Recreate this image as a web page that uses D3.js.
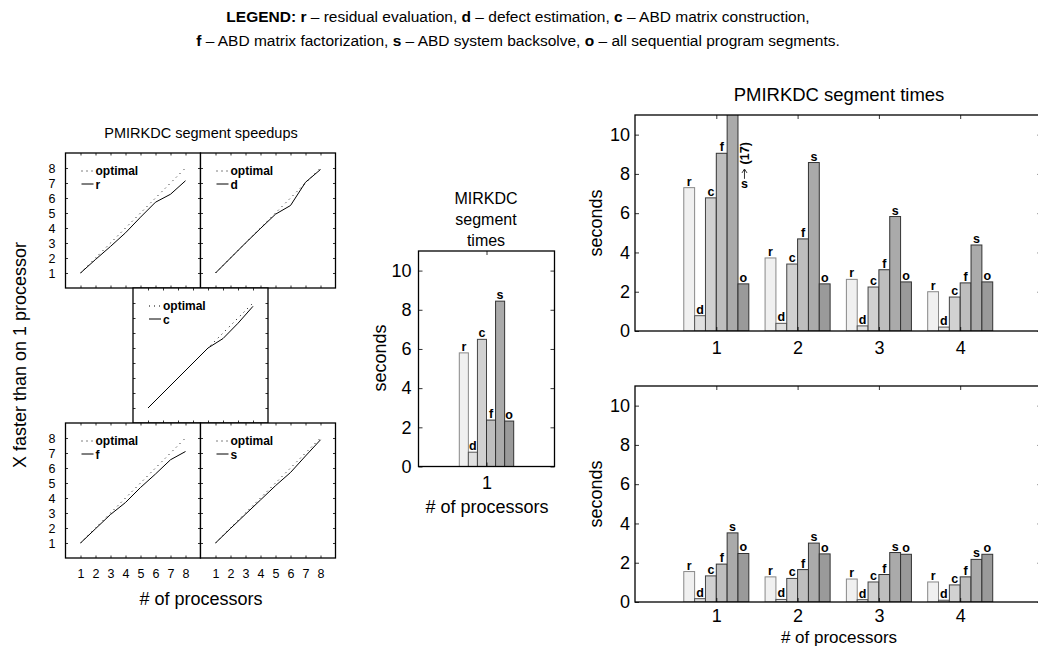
<!DOCTYPE html>
<html>
<head>
<meta charset="utf-8">
<script src="https://cdn.jsdelivr.net/npm/d3@7"></script>
<style>
  html, body { margin: 0; padding: 0; background: #fff; }
  svg { display: block; }
  text { font-family: "Liberation Sans", Helvetica, Arial, sans-serif; fill: #000; }
</style>
</head>
<body>
<div id="chart"></div>
<script>
// ---- data -------------------------------------------------------------
const segments = ["r", "d", "c", "f", "s", "o"];
const segmentNames = ["residual evaluation", "defect estimation", "ABD matrix construction",
                      "ABD matrix factorization", "ABD system backsolve", "all sequential program segments"];
const processors = [1, 2, 3, 4, 5, 6, 7, 8];
const speedTicks = [1, 2, 3, 4, 5, 6, 7, 8];
const timeTicks = [0, 2, 4, 6, 8, 10];

// speedup of each parallel segment relative to one processor
const optimalSpeedup = [1, 2, 3, 4, 5, 6, 7, 8];
const speedupR = [1, 1.9, 2.77, 3.68, 4.72, 5.72, 6.25, 7.15];
const speedupD = [1, 2.0, 3.0, 3.97, 4.92, 5.5, 7.05, 7.9];
const speedupC = [1, 2.0, 3.0, 4.0, 5.0, 5.63, 6.65, 7.78];
const speedupF = [1, 1.95, 2.9, 3.7, 4.7, 5.6, 6.55, 7.1];
const speedupS = [1, 1.97, 2.92, 3.87, 4.82, 5.7, 6.8, 7.88];

// sequential MIRKDC segment times (seconds)
const mirkdcTimes = [5.8, 0.73, 6.49, 2.37, 8.44, 2.32];

// PMIRKDC segment times (seconds) for 1..8 processors, one array per segment
const timesR = [7.3, 3.72, 2.63, 2.0, 1.55, 1.28, 1.17, 1.02];
const timesD = [0.78, 0.39, 0.26, 0.2, 0.17, 0.13, 0.12, 0.09];
const timesC = [6.78, 3.41, 2.24, 1.73, 1.33, 1.2, 1.02, 0.87];
const timesF = [9.05, 4.69, 3.12, 2.45, 1.93, 1.65, 1.4, 1.28];
const timesS = [17, 8.58, 5.83, 4.38, 3.52, 3.0, 2.52, 2.17];
const timesO = [2.4, 2.4, 2.5, 2.5, 2.47, 2.45, 2.43, 2.43];

const barFills = ["#f0f0f0", "#e0e0e0", "#d1d1d1", "#bebebe", "#aaaaaa", "#9a9a9a"];
const barStrokes = ["#888", "#555", "#444", "#333", "#333", "#333"];

// ---- canvas -----------------------------------------------------------
const W = 1038, H = 654;
const svg = d3.select("#chart").append("svg")
  .attr("width", W).attr("height", H)
  .attr("viewBox", `0 0 ${W} ${H}`);

// ---- legend header ----------------------------------------------------
function legendLine(y, parts) {
  const t = svg.append("text").attr("x", 518).attr("y", y)
    .attr("text-anchor", "middle").style("font-size", "15.5px");
  parts.forEach(p => {
    t.append("tspan").text(p.t).style("font-weight", p.b ? "bold" : "normal");
  });
}
legendLine(22, [
  {t: "LEGEND:  ", b: true},
  {t: "r", b: true}, {t: " – " + segmentNames[0] + ", "},
  {t: "d", b: true}, {t: " – " + segmentNames[1] + ", "},
  {t: "c", b: true}, {t: " – " + segmentNames[2] + ","}
]);
legendLine(46, [
  {t: "f", b: true}, {t: " – " + segmentNames[3] + ", "},
  {t: "s", b: true}, {t: " – " + segmentNames[4] + ", "},
  {t: "o", b: true}, {t: " – " + segmentNames[5] + "."}
]);

// ---- speedup panels ---------------------------------------------------
const PANEL = 135;
function speedupPanel(x0, y0, series, letter, showX, showY) {
  const x = d3.scaleLinear().domain([0, 9]).range([x0, x0 + PANEL]);
  const y = d3.scaleLinear().domain([0, 9]).range([y0 + PANEL, y0]);
  const g = svg.append("g");

  g.append("rect").attr("x", x0).attr("y", y0).attr("width", PANEL).attr("height", PANEL)
    .attr("fill", "#fff").attr("stroke", "#000").attr("stroke-width", 1.3);

  const fmt = d => d;
  const blank = () => "";
  const axes = [
    [d3.axisBottom(x).tickFormat(showX ? fmt : blank).tickPadding(11), `translate(0,${y0 + PANEL})`],
    [d3.axisTop(x).tickFormat(blank), `translate(0,${y0})`],
    [d3.axisLeft(y).tickFormat(showY ? fmt : blank).tickPadding(10), `translate(${x0},0)`],
    [d3.axisRight(y).tickFormat(blank), `translate(${x0 + PANEL},0)`]
  ];
  axes.forEach(([ax, tr]) => {
    const a = g.append("g").attr("transform", tr)
      .call(ax.tickValues(speedTicks).tickSizeInner(-2.5).tickSizeOuter(0));
    a.select(".domain").remove();
    a.selectAll("line").attr("stroke", "#000").attr("stroke-width", 0.8);
    a.selectAll("text").style("font-size", "12.5px").attr("fill", "#000");
  });

  const line = d3.line().x((d, i) => x(processors[i])).y(d => y(d));
  g.append("path").datum(optimalSpeedup).attr("d", line)
    .attr("fill", "none").attr("stroke", "#000").attr("stroke-width", 1)
    .attr("stroke-dasharray", "1 4.2");
  g.append("path").datum(series).attr("d", line)
    .attr("fill", "none").attr("stroke", "#000").attr("stroke-width", 1);

  // in-panel key
  g.append("line").attr("x1", x0 + 16).attr("x2", x0 + 28).attr("y1", y0 + 18).attr("y2", y0 + 18)
    .attr("stroke", "#000").attr("stroke-dasharray", "1 4");
  g.append("line").attr("x1", x0 + 16).attr("x2", x0 + 28).attr("y1", y0 + 31).attr("y2", y0 + 31)
    .attr("stroke", "#000").attr("stroke-width", 1);
  g.append("text").attr("x", x0 + 30).attr("y", y0 + 22).text("optimal")
    .style("font-size", "12px").style("font-weight", "bold");
  g.append("text").attr("x", x0 + 30).attr("y", y0 + 35.5).text(letter)
    .style("font-size", "12px").style("font-weight", "bold");
}

speedupPanel(65.5, 153, speedupR, "r", false, true);
speedupPanel(200.5, 153, speedupD, "d", false, false);
speedupPanel(133, 288, speedupC, "c", false, false);
speedupPanel(65.5, 423, speedupF, "f", true, true);
speedupPanel(200.5, 423, speedupS, "s", true, false);

svg.append("text").attr("x", 201).attr("y", 138).attr("text-anchor", "middle")
  .style("font-size", "14.5px").text("PMIRKDC segment speedups");
svg.append("text").attr("x", 201).attr("y", 605).attr("text-anchor", "middle")
  .style("font-size", "18px").text("# of processors");
svg.append("text").attr("transform", "translate(26,355) rotate(-90)").attr("text-anchor", "middle")
  .style("font-size", "18px").text("X faster than on 1 processor");

// ---- bar panels -------------------------------------------------------
let clipId = 0;
function barPanel(cfg) {
  const {left, top, right, bottom, xMax, cats, values, tickPad, xPad} = cfg;
  const x = d3.scaleLinear().domain([0, xMax]).range([left, right]);
  const y = d3.scaleLinear().domain([0, 11]).range([bottom, top]);
  const unit = x(1) - x(0);
  const inner = d3.scaleBand().domain(segments).range([-0.4 * unit, 0.4 * unit]).padding(0);
  const g = svg.append("g");

  const id = "clip" + (clipId++);
  g.append("clipPath").attr("id", id).append("rect")
    .attr("x", left).attr("y", top).attr("width", right - left).attr("height", bottom - top);

  const plot = g.append("g").attr("clip-path", `url(#${id})`);
  cats.forEach((cat, ci) => {
    segments.forEach((seg, si) => {
      const v = values[si][ci];
      const bx = x(cat) + inner(seg);
      plot.append("rect")
        .attr("x", bx).attr("y", y(v))
        .attr("width", inner.bandwidth()).attr("height", y(0) - y(v))
        .attr("fill", barFills[si]).attr("stroke", barStrokes[si]).attr("stroke-width", 1);
      if (v <= 11) {
        g.append("text").attr("x", bx + inner.bandwidth() / 2).attr("y", y(v) - 2)
          .attr("text-anchor", "middle").style("font-size", "12.5px").style("font-weight", "bold")
          .text(seg);
      } else {
        // bar leaves the axis range: note its height beside it
        const ax = bx + inner.bandwidth() + 6.5;
        g.append("text").attr("x", ax).attr("y", y(7.5) + 4).attr("text-anchor", "middle")
          .style("font-size", "12.5px").style("font-weight", "bold").text(seg);
        g.append("line").attr("x1", ax).attr("x2", ax).attr("y1", y(7.75)).attr("y2", y(8.2))
          .attr("stroke", "#000").attr("stroke-width", 0.8);
        g.append("path").attr("d", `M${ax - 2.5},${y(8.05)} L${ax},${y(8.25)} L${ax + 2.5},${y(8.05)}`)
          .attr("fill", "none").attr("stroke", "#000").attr("stroke-width", 0.8);
        g.append("text").attr("transform", `translate(${ax + 4.5},${y(9.05)}) rotate(-90)`)
          .attr("text-anchor", "middle").style("font-size", "12.5px").style("font-weight", "bold")
          .text(`(${v})`);
      }
    });
  });

  g.append("rect").attr("x", left).attr("y", top).attr("width", right - left).attr("height", bottom - top)
    .attr("fill", "none").attr("stroke", "#000").attr("stroke-width", 1.3);

  const axes = [
    [d3.axisBottom(x).tickValues(cats).tickFormat(d => d).tickPadding(xPad), `translate(0,${bottom})`],
    [d3.axisTop(x).tickValues(cats).tickFormat(() => ""), `translate(0,${top})`],
    [d3.axisLeft(y).tickValues(timeTicks).tickFormat(d => d).tickPadding(tickPad), `translate(${left},0)`],
    [d3.axisRight(y).tickValues(timeTicks).tickFormat(() => ""), `translate(${right},0)`]
  ];
  axes.forEach(([ax, tr]) => {
    const a = g.append("g").attr("transform", tr)
      .call(ax.tickSizeInner(-4).tickSizeOuter(0));
    a.select(".domain").remove();
    a.selectAll("line").attr("stroke", "#000").attr("stroke-width", 0.8);
    a.selectAll("text").style("font-size", "18px").attr("fill", "#000");
  });
  return {x, y};
}

const segTimes = [timesR, timesD, timesC, timesF, timesS, timesO];

// MIRKDC (sequential) times, one group
barPanel({left: 418.5, top: 251, right: 554.5, bottom: 466.5, xMax: 2, cats: [1],
          values: mirkdcTimes.map(v => [v]), tickPad: 7, xPad: 10});
["MIRKDC", "segment", "times"].forEach((t, i) => {
  svg.append("text").attr("x", 486).attr("y", 204 + i * 21).attr("text-anchor", "middle")
    .style("font-size", "16px").text(t);
});
svg.append("text").attr("transform", "translate(386,358) rotate(-90)").attr("text-anchor", "middle")
  .style("font-size", "18px").text("seconds");
svg.append("text").attr("x", 487).attr("y", 513).attr("text-anchor", "middle")
  .style("font-size", "18px").text("# of processors");

// PMIRKDC times, 1-4 processors
barPanel({left: 635, top: 115, right: 1041.5, bottom: 331, xMax: 5, cats: processors.slice(0, 4),
          values: segTimes.map(a => a.slice(0, 4)), tickPad: 5, xPad: 10});
// PMIRKDC times, 5-8 processors
barPanel({left: 635, top: 386, right: 1041.5, bottom: 602, xMax: 5, cats: [1, 2, 3, 4],
          values: segTimes.map(a => a.slice(4, 8)), tickPad: 5, xPad: 7});
svg.append("text").attr("x", 839).attr("y", 101).attr("text-anchor", "middle")
  .style("font-size", "18.5px").text("PMIRKDC segment times");
svg.append("text").attr("transform", "translate(602,223) rotate(-90)").attr("text-anchor", "middle")
  .style("font-size", "18px").text("seconds");
svg.append("text").attr("transform", "translate(602,494) rotate(-90)").attr("text-anchor", "middle")
  .style("font-size", "18px").text("seconds");
svg.append("text").attr("x", 839).attr("y", 643).attr("text-anchor", "middle")
  .style("font-size", "17px").text("# of processors");
</script>
</body>
</html>
